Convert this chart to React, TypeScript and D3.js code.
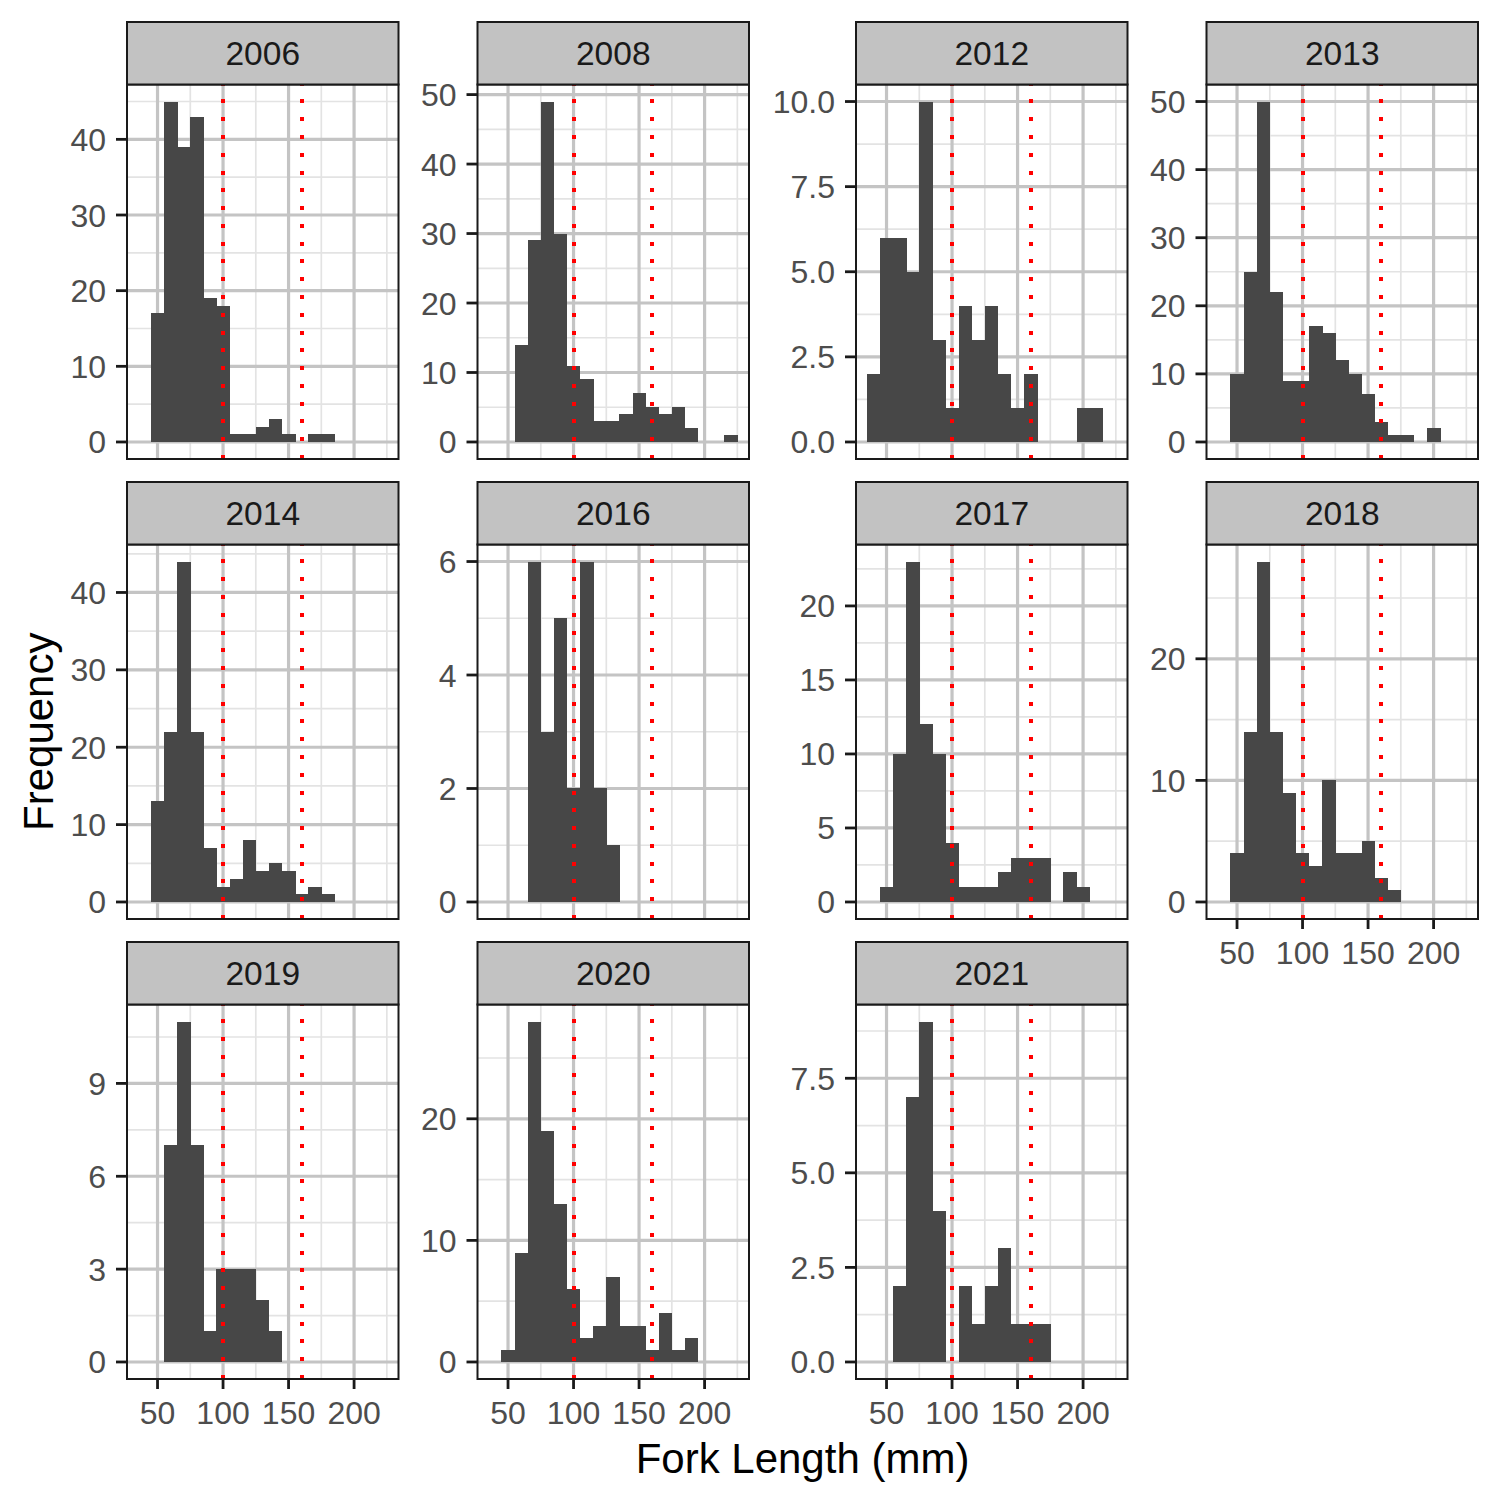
import React from "react";
import * as d3 from "d3";

// ---- data ----
const years = ["2006", "2008", "2012", "2013", "2014", "2016", "2017", "2018", "2019", "2020", "2021"];
// bin centres (mm), bin width 10
const binCenters = [40, 50, 60, 70, 80, 90, 100, 110, 120, 130, 140, 150, 160, 170, 180, 190, 200, 210, 220];
const binWidth = 10;
const counts2006 = [0, 17, 45, 39, 43, 19, 18, 1, 1, 2, 3, 1, 0, 1, 1, 0, 0, 0, 0];
const counts2008 = [0, 0, 14, 29, 49, 30, 11, 9, 3, 3, 4, 7, 5, 4, 5, 2, 0, 0, 1];
const counts2012 = [2, 6, 6, 5, 10, 3, 1, 4, 3, 4, 2, 1, 2, 0, 0, 0, 1, 1, 0];
const counts2013 = [0, 10, 25, 50, 22, 9, 9, 17, 16, 12, 10, 7, 3, 1, 1, 0, 2, 0, 0];
const counts2014 = [0, 13, 22, 44, 22, 7, 2, 3, 8, 4, 5, 4, 1, 2, 1, 0, 0, 0, 0];
const counts2016 = [0, 0, 0, 6, 3, 5, 2, 6, 2, 1, 0, 0, 0, 0, 0, 0, 0, 0, 0];
const counts2017 = [0, 1, 10, 23, 12, 10, 4, 1, 1, 1, 2, 3, 3, 3, 0, 2, 1, 0, 0];
const counts2018 = [0, 4, 14, 28, 14, 9, 4, 3, 10, 4, 4, 5, 2, 1, 0, 0, 0, 0, 0];
const counts2019 = [0, 0, 7, 11, 7, 1, 3, 3, 3, 2, 1, 0, 0, 0, 0, 0, 0, 0, 0];
const counts2020 = [0, 1, 9, 28, 19, 13, 6, 2, 3, 7, 3, 3, 1, 4, 1, 2, 0, 0, 0];
const counts2021 = [0, 0, 2, 7, 9, 4, 0, 2, 1, 2, 3, 1, 1, 1, 0, 0, 0, 0, 0];
const countsByYear = [counts2006, counts2008, counts2012, counts2013, counts2014, counts2016, counts2017, counts2018, counts2019, counts2020, counts2021];

// y tick values per panel
const yTicks2006 = [0, 10, 20, 30, 40];
const yTicks2008 = [0, 10, 20, 30, 40, 50];
const yTicks2012 = [0, 2.5, 5, 7.5, 10];
const yTicks2013 = [0, 10, 20, 30, 40, 50];
const yTicks2014 = [0, 10, 20, 30, 40];
const yTicks2016 = [0, 2, 4, 6];
const yTicks2017 = [0, 5, 10, 15, 20];
const yTicks2018 = [0, 10, 20];
const yTicks2019 = [0, 3, 6, 9];
const yTicks2020 = [0, 10, 20];
const yTicks2021 = [0, 2.5, 5, 7.5];
const yTicksByYear = [yTicks2006, yTicks2008, yTicks2012, yTicks2013, yTicks2014, yTicks2016, yTicks2017, yTicks2018, yTicks2019, yTicks2020, yTicks2021];
const decimalYears = ["2012", "2021"];

const xTicks = [50, 100, 150, 200];
const refLines = [100, 160];
const xDomain = [26.7, 233.9];

const xTitle = "Fork Length (mm)";
const yTitle = "Frequency";

// ---- layout ----
const colX = [127, 477.5, 856, 1206.5];
const rowTop = [22, 482, 942];
const panelW = 271.5;
const stripH = 62.5;
const panelH = 374.5;
const nCol = 4;

const FONT = "Arial, 'Liberation Sans', Helvetica, sans-serif";
const AXIS_FS = 32;
const STRIP_FS = 33.5;
const TITLE_FS = 42;

function minorBreaks(majors: number[], lo: number, hi: number) {
  const step = majors.length > 1 ? majors[1] - majors[0] : 1;
  const out: number[] = [];
  const ext = [majors[0] - step, ...majors, majors[majors.length - 1] + step];
  for (let i = 0; i < ext.length - 1; i++) {
    const m = (ext[i] + ext[i + 1]) / 2;
    if (m >= lo && m <= hi) out.push(m);
  }
  return out;
}

function Panel({ idx }: { idx: number }) {
  const year = years[idx];
  const counts = countsByYear[idx];
  const ticks = yTicksByYear[idx];
  const col = idx % nCol;
  const row = Math.floor(idx / nCol);
  const x0 = colX[col];
  const stripY = rowTop[row];
  const py0 = stripY + stripH;
  const py1 = py0 + panelH;
  const maxC = d3.max(counts) as number;
  const x = d3.scaleLinear().domain(xDomain).range([x0, x0 + panelW]);
  const y = d3.scaleLinear().domain([-0.05 * maxC, 1.05 * maxC]).range([py1, py0]);
  const yMinor = minorBreaks(ticks, y.domain()[0], y.domain()[1]);
  const xMinor = minorBreaks(xTicks, xDomain[0], xDomain[1]);
  const hasBelow = idx + nCol < years.length;
  const fmt = decimalYears.includes(year) ? d3.format(".1f") : d3.format("d");
  const clipId = `clip-${year}`;
  return (
    <g>
      <defs>
        <clipPath id={clipId}>
          <rect x={x0} y={py0} width={panelW} height={panelH} />
        </clipPath>
      </defs>
      <rect x={x0} y={py0} width={panelW} height={panelH} fill="#FFFFFF" />
      <g clipPath={`url(#${clipId})`}>
        {yMinor.map((v) => (
          <line key={`ym${v}`} x1={x0} x2={x0 + panelW} y1={y(v)} y2={y(v)} stroke="#E3E3E3" strokeWidth={1.7} />
        ))}
        {xMinor.map((v) => (
          <line key={`xm${v}`} x1={x(v)} x2={x(v)} y1={py0} y2={py1} stroke="#E3E3E3" strokeWidth={1.7} />
        ))}
        {ticks.map((v) => (
          <line key={`yM${v}`} x1={x0} x2={x0 + panelW} y1={y(v)} y2={y(v)} stroke="#C4C4C4" strokeWidth={3.2} />
        ))}
        {xTicks.map((v) => (
          <line key={`xM${v}`} x1={x(v)} x2={x(v)} y1={py0} y2={py1} stroke="#C4C4C4" strokeWidth={3.2} />
        ))}
        {counts.map((c, i) =>
          c > 0 ? (
            <rect
              key={`b${i}`}
              x={x(binCenters[i] - binWidth / 2)}
              width={x(binCenters[i] + binWidth / 2) - x(binCenters[i] - binWidth / 2) + 0.4}
              y={y(c)}
              height={y(0) - y(c)}
              fill="#474747"
              shapeRendering="crispEdges"
            />
          ) : null
        )}
        {refLines.map((v) => (
          <line
            key={`r${v}`}
            x1={x(v)}
            x2={x(v)}
            y1={py1}
            y2={py0}
            stroke="#FF0000"
            strokeWidth={4}
            strokeDasharray="4 13.78"
            shapeRendering="crispEdges"
          />
        ))}
      </g>
      <rect x={x0} y={py0} width={panelW} height={panelH} fill="none" stroke="#1A1A1A" strokeWidth={2} />
      {/* strip */}
      <rect x={x0} y={stripY} width={panelW} height={stripH} fill="#C2C2C2" stroke="#1A1A1A" strokeWidth={2} />
      <text x={x0 + panelW / 2} y={stripY + stripH / 2} dy="0.36em" textAnchor="middle" fontFamily={FONT} fontSize={STRIP_FS} fill="#1A1A1A">
        {year}
      </text>
      {/* y axis */}
      {ticks.map((v) => (
        <g key={`yt${v}`}>
          <line x1={x0 - 11} x2={x0} y1={y(v)} y2={y(v)} stroke="#1A1A1A" strokeWidth={2.8} />
          <text x={x0 - 21} y={y(v)} dy="0.36em" textAnchor="end" fontFamily={FONT} fontSize={AXIS_FS} fill="#4D4D4D">
            {fmt(v)}
          </text>
        </g>
      ))}
      {/* x axis */}
      {!hasBelow &&
        xTicks.map((v) => (
          <g key={`xt${v}`}>
            <line x1={x(v)} x2={x(v)} y1={py1} y2={py1 + 10} stroke="#1A1A1A" strokeWidth={2.8} />
            <text x={x(v)} y={py1 + 45} textAnchor="middle" fontFamily={FONT} fontSize={AXIS_FS} fill="#4D4D4D">
              {v}
            </text>
          </g>
        ))}
    </g>
  );
}

export default function App() {
  return (
    <svg width={1500} height={1500} viewBox="0 0 1500 1500" style={{ display: "block", position: "absolute", left: 0, top: 0 }}>
      <rect x={0} y={0} width={1500} height={1500} fill="#FFFFFF" />
      {years.map((yr, i) => (
        <Panel key={yr} idx={i} />
      ))}
      <text x={(colX[0] + colX[3] + panelW) / 2} y={1473} textAnchor="middle" fontFamily={FONT} fontSize={TITLE_FS} fill="#000000">
        {xTitle}
      </text>
      <text
        transform={`translate(53, ${(rowTop[0] + stripH + rowTop[2] + stripH + panelH) / 2}) rotate(-90)`}
        textAnchor="middle"
        fontFamily={FONT}
        fontSize={TITLE_FS}
        fill="#000000"
      >
        {yTitle}
      </text>
    </svg>
  );
}
